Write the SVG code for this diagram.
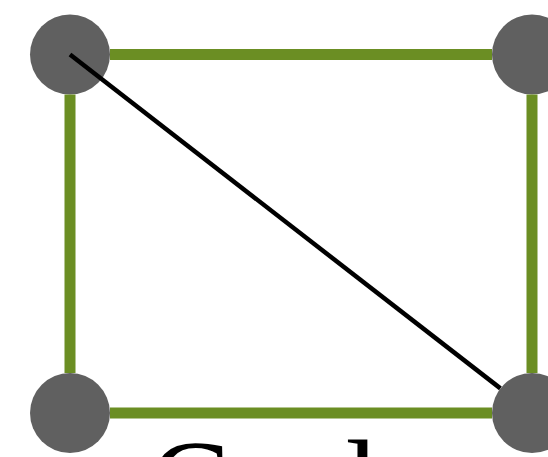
<svg xmlns="http://www.w3.org/2000/svg" width="548" height="457" viewBox="0 0 548 457">
<style>
.node{fill:#606060}
.g{stroke:#6b8e23;stroke-width:11;fill:none}
.k{stroke:#000;stroke-width:4.5;fill:none}
.title{font-family:"Liberation Serif","Times New Roman",serif;font-size:122px;fill:#000}
</style>
<rect width="548" height="457" fill="#fff"/>
<g id="n1"><circle class="node" cx="70" cy="54.5" r="40"/></g>
<g id="n2"><circle class="node" cx="532" cy="54.5" r="40"/></g>
<g id="n3"><circle class="node" cx="70" cy="413" r="40"/></g>
<g id="n4"><circle class="node" cx="532" cy="413" r="40"/></g>
<g id="edges">
<line class="g" x1="110" y1="54.5" x2="492" y2="54.5"/>
<line class="g" x1="70" y1="94.5" x2="70" y2="373"/>
<line class="g" x1="532" y1="94.5" x2="532" y2="373"/>
<line class="g" x1="110" y1="413" x2="492" y2="413"/>
<line class="k" x1="70" y1="54.5" x2="500.4" y2="388.4"/>
</g>
<text class="title" x="149" y="525">Cycle</text>
</svg>
